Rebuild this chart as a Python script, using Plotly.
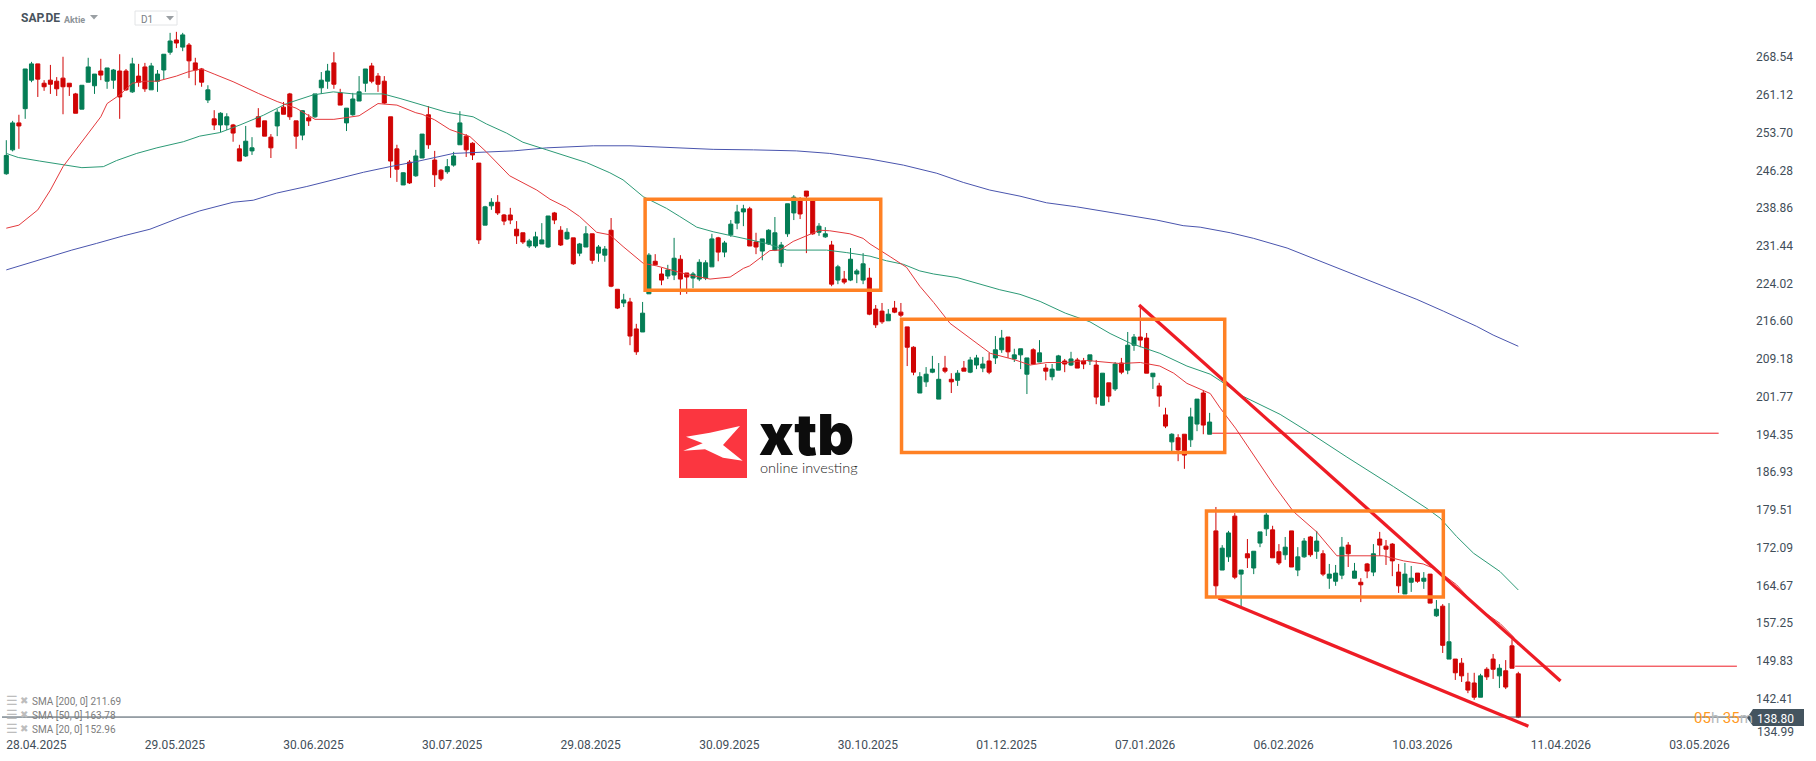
import plotly.graph_objects as go

WIDTH = 1816
HEIGHT = 761

# candles, oldest first
opens = [
    245.6, 250.3, 255.6, 258.4, 264.0, 267.2, 263.4, 264.0, 263.8, 264.4,
    263.4, 261.3, 258.3, 263.6, 262.9, 265.8, 263.8, 264.0, 265.8, 265.8,
    261.7, 264.8, 266.6, 262.1, 263.8, 266.0, 269.5, 271.9, 270.5, 270.9,
    267.4, 266.2, 260.1, 256.4, 255.2, 255.2, 255.2, 250.5, 249.1, 250.1,
    256.8, 256.0, 252.8, 255.0, 258.7, 261.3, 256.0, 253.2, 256.6, 256.8,
    262.5, 263.8, 267.4, 261.5, 255.6, 257.2, 259.9, 263.4, 266.8, 264.8,
    263.8, 256.8, 250.5, 243.4, 247.9, 245.2, 248.7, 257.2, 248.3, 246.3,
    246.0, 247.3, 251.3, 253.0, 251.6, 247.7, 235.5, 239.3, 240.0, 237.5,
    237.5, 234.7, 234.0, 231.4, 231.4, 231.8, 231.2, 237.9, 234.5, 232.8,
    233.0, 230.0, 231.2, 233.8, 230.0, 229.6, 234.5, 222.9, 220.2, 220.4,
    215.1, 214.5, 222.0, 228.4, 225.9, 225.5, 225.7, 228.8, 226.1, 225.1,
    224.9, 225.1, 227.3, 233.0, 230.2, 233.6, 235.9, 238.1, 238.7, 232.2,
    230.4, 231.8, 230.6, 228.1, 233.8, 237.9, 240.4, 242.2, 240.4, 234.1,
    233.2, 231.6, 224.7, 224.9, 224.7, 225.9, 224.7, 225.1, 219.0, 218.6,
    216.7, 219.2, 218.4, 215.5, 211.5, 202.5, 204.7, 206.6, 201.3, 207.4,
    205.2, 205.0, 207.4, 206.6, 208.0, 207.4, 208.8, 209.4, 211.0, 213.5,
    209.2, 210.0, 206.2, 211.0, 208.6, 207.4, 205.7, 207.0, 208.8, 208.0,
    209.0, 208.8, 208.8, 208.0, 200.1, 204.5, 203.3, 208.4, 207.0, 211.9,
    213.5, 213.3, 205.7, 203.9, 198.2, 192.9, 193.7, 194.4, 193.3, 196.4,
    202.5, 194.4, 175.4, 167.7, 170.3, 178.3, 166.9, 170.9, 168.1, 173.0,
    175.8, 175.6, 171.3, 170.7, 175.4, 167.7, 170.3, 174.2, 171.4, 170.9,
    166.1, 165.5, 166.7, 172.6, 166.1, 165.3, 168.9, 167.3, 173.8, 172.4,
    172.8, 167.3, 163.0, 165.3, 167.1, 165.5, 166.9, 158.7, 160.6, 150.2,
    150.2, 149.4, 145.7, 145.5, 142.7, 148.2, 150.2, 146.9, 147.9, 152.8,
    147.3,
]
highs = [
    252.2, 256.0, 257.2, 266.2, 267.6, 267.2, 264.0, 267.0, 264.6, 268.6,
    263.4, 261.5, 263.0, 268.4, 265.2, 268.2, 266.4, 266.2, 269.1, 266.2,
    268.4, 267.2, 267.4, 267.4, 266.0, 269.1, 273.3, 273.5, 273.3, 271.3,
    268.4, 266.4, 263.0, 258.1, 257.7, 257.5, 255.4, 251.3, 255.0, 252.8,
    258.5, 256.0, 253.4, 258.3, 259.7, 261.5, 256.0, 258.1, 257.3, 261.3,
    265.6, 267.2, 269.5, 262.3, 258.5, 261.5, 264.8, 266.2, 267.4, 265.4,
    264.8, 256.8, 251.3, 245.9, 248.3, 250.3, 253.4, 258.9, 250.1, 246.5,
    248.5, 249.9, 257.9, 253.4, 251.8, 247.7, 239.3, 240.8, 241.4, 237.7,
    238.9, 236.3, 234.0, 232.8, 234.2, 235.9, 237.3, 238.1, 235.3, 234.9,
    233.0, 232.0, 235.3, 233.8, 231.6, 231.4, 236.9, 222.9, 222.0, 221.2,
    216.1, 220.4, 230.0, 229.8, 227.1, 227.7, 233.0, 229.6, 226.1, 226.3,
    228.8, 228.6, 233.8, 233.2, 232.4, 236.5, 239.5, 239.5, 239.1, 234.0,
    232.8, 234.7, 237.1, 232.2, 239.7, 241.4, 241.0, 242.2, 240.4, 235.9,
    235.1, 232.4, 227.7, 226.5, 231.0, 226.9, 230.0, 227.1, 219.8, 220.2,
    219.0, 220.6, 220.2, 215.5, 211.7, 206.6, 207.6, 209.8, 208.4, 209.8,
    206.4, 207.0, 208.8, 209.6, 210.0, 209.6, 210.4, 213.7, 214.9, 213.5,
    211.2, 211.2, 209.4, 211.3, 212.9, 208.2, 208.2, 210.0, 209.2, 210.6,
    209.4, 209.4, 210.0, 209.0, 206.4, 204.5, 208.6, 209.4, 214.5, 214.1,
    219.8, 214.3, 206.4, 204.5, 199.6, 194.6, 194.4, 194.4, 199.6, 201.3,
    203.1, 198.6, 180.1, 172.6, 175.4, 178.9, 167.7, 173.8, 171.4, 175.2,
    178.9, 176.4, 172.8, 174.2, 175.4, 172.2, 174.0, 174.4, 175.4, 171.6,
    168.9, 168.7, 174.2, 173.2, 169.1, 166.1, 169.1, 172.8, 175.2, 173.6,
    173.0, 168.9, 169.1, 168.5, 167.1, 167.3, 166.9, 161.8, 161.0, 161.2,
    150.2, 150.4, 147.5, 147.5, 147.3, 148.6, 151.2, 149.2, 150.0, 154.1,
    147.7,
]
lows = [
    245.4, 250.0, 250.5, 256.4, 263.6, 260.7, 261.9, 261.3, 260.9, 257.3,
    260.9, 257.5, 258.3, 263.6, 261.3, 264.0, 262.3, 262.3, 256.4, 261.9,
    261.5, 262.7, 261.7, 262.1, 261.7, 264.2, 269.0, 270.3, 269.7, 264.4,
    263.0, 262.7, 259.5, 254.2, 253.8, 254.2, 251.9, 248.1, 248.9, 249.3,
    254.8, 253.0, 248.7, 253.0, 257.3, 256.2, 250.5, 252.2, 255.0, 256.6,
    261.3, 262.3, 262.3, 259.1, 254.0, 257.0, 259.9, 261.7, 263.4, 261.7,
    259.3, 244.8, 244.0, 243.4, 243.6, 245.0, 248.7, 250.5, 243.0, 244.2,
    245.6, 247.0, 251.3, 248.9, 248.3, 231.8, 235.5, 238.5, 237.5, 235.5,
    235.7, 231.8, 231.8, 231.0, 231.0, 231.8, 231.0, 235.7, 231.4, 232.6,
    227.7, 229.4, 231.2, 227.9, 228.3, 228.3, 223.3, 219.0, 219.4, 211.9,
    210.0, 214.5, 222.0, 227.7, 223.7, 224.9, 224.7, 221.8, 222.0, 223.1,
    224.5, 224.7, 227.3, 228.4, 229.2, 233.2, 234.7, 235.3, 231.4, 229.8,
    228.6, 231.6, 230.4, 227.3, 233.2, 236.5, 236.7, 230.0, 233.6, 233.4,
    233.0, 223.5, 223.9, 223.9, 224.5, 224.1, 223.9, 217.8, 215.3, 216.1,
    216.7, 218.2, 217.4, 207.8, 206.0, 202.5, 203.7, 206.4, 201.3, 206.4,
    202.5, 203.9, 206.8, 206.4, 207.2, 206.6, 206.2, 208.2, 210.4, 209.4,
    208.6, 207.2, 202.3, 208.0, 208.6, 205.0, 205.0, 207.0, 206.6, 207.8,
    207.4, 207.2, 208.0, 200.3, 200.1, 200.7, 202.9, 206.2, 206.2, 210.8,
    211.5, 206.4, 203.3, 199.8, 195.6, 191.1, 189.1, 187.6, 191.9, 195.0,
    194.4, 194.4, 162.4, 167.7, 169.3, 165.9, 160.6, 168.1, 166.9, 172.2,
    174.4, 170.1, 168.7, 169.7, 168.3, 166.5, 170.1, 170.3, 169.9, 166.5,
    164.0, 164.6, 165.9, 168.3, 166.1, 161.4, 166.1, 166.5, 170.5, 168.7,
    166.5, 163.2, 163.0, 163.4, 165.2, 164.0, 161.2, 158.5, 151.4, 150.2,
    146.1, 145.7, 143.5, 142.2, 142.7, 146.1, 146.3, 144.5, 144.3, 148.4,
    138.6,
]
closes = [
    249.2, 255.6, 255.0, 266.2, 267.2, 264.2, 262.7, 263.2, 262.3, 262.7,
    262.7, 257.5, 263.0, 266.6, 265.2, 265.0, 266.4, 266.0, 260.7, 262.1,
    267.2, 263.6, 262.3, 266.8, 265.2, 269.1, 271.7, 271.3, 272.9, 267.8,
    266.0, 263.6, 262.1, 255.2, 257.5, 256.8, 253.6, 248.1, 252.0, 250.7,
    254.8, 253.0, 250.7, 257.7, 257.3, 256.8, 253.0, 258.0, 256.0, 261.3,
    264.0, 265.8, 263.2, 259.1, 258.5, 260.3, 261.7, 266.2, 263.8, 263.2,
    259.5, 248.1, 246.5, 245.8, 243.8, 249.1, 253.4, 251.3, 245.4, 244.6,
    247.0, 249.1, 255.6, 250.3, 249.3, 232.6, 239.1, 240.0, 237.9, 236.3,
    236.5, 233.4, 232.2, 232.4, 233.2, 232.6, 237.3, 236.5, 231.6, 234.1,
    227.9, 231.8, 233.8, 228.6, 231.2, 230.8, 223.5, 219.2, 220.8, 213.7,
    210.6, 218.2, 229.6, 227.7, 224.7, 226.7, 229.0, 224.9, 225.3, 225.9,
    228.2, 228.1, 232.8, 230.2, 232.0, 235.7, 238.1, 238.7, 231.4, 231.2,
    232.8, 234.5, 234.0, 231.6, 239.7, 241.0, 237.7, 241.2, 233.8, 235.3,
    233.8, 223.9, 227.3, 224.3, 228.8, 226.5, 227.9, 218.0, 215.9, 216.5,
    218.0, 218.4, 217.8, 211.5, 206.6, 205.7, 206.2, 207.2, 205.2, 206.8,
    204.7, 206.4, 206.8, 209.0, 209.4, 208.2, 206.6, 211.0, 213.3, 210.6,
    210.0, 211.2, 209.4, 208.2, 210.4, 206.8, 207.2, 209.8, 208.2, 209.2,
    207.4, 208.2, 210.0, 201.7, 206.4, 201.9, 208.2, 206.6, 211.9, 213.5,
    212.9, 206.4, 206.4, 201.9, 196.0, 194.4, 191.3, 190.3, 197.8, 201.3,
    196.2, 196.8, 164.6, 172.0, 175.0, 166.3, 167.7, 170.1, 171.4, 175.2,
    178.5, 170.1, 169.1, 172.2, 168.3, 170.3, 173.4, 170.7, 173.4, 166.9,
    166.9, 167.1, 172.2, 170.9, 167.5, 164.8, 167.5, 170.9, 172.6, 171.8,
    169.5, 164.6, 166.9, 166.1, 165.5, 166.1, 161.2, 160.0, 152.9, 153.6,
    147.5, 146.9, 144.1, 142.7, 146.9, 146.7, 148.2, 148.4, 144.7, 148.4,
    138.8,
]

# moving averages, read at knots along each line (candle number, price)
sma20_x = [0, 2, 5, 7, 9, 12, 15, 16, 18, 20, 22, 24, 27, 29, 31, 33, 36, 40, 43, 46, 49, 52, 56, 59, 62, 65, 66, 68,
           70.4, 73.6, 76.2, 79.9, 84.2, 86.3, 88.9, 91, 93.7, 95.8, 97.9, 101.1, 103.2, 106.9, 108.5, 111.7, 114.9,
           117, 118, 121.2, 122.8, 124.9, 126.5, 129.1, 130.7, 133.9, 136, 137.1, 140.3, 142.9, 145, 147.2, 149.8, 153,
           156.2, 159.9, 162.5, 165.2, 168.3, 171.5, 173.6, 176.8, 180, 183.1, 185.3, 187.4, 191.1, 192.7, 195.1, 198,
           201.2, 204.3, 208, 211.2, 214.4, 218.6, 221.8, 224.9, 227, 230.2, 233.4, 237.1, 239.2, 240]
sma20_y = [234.9, 235.5, 238.5, 242.4, 247.0, 251.9, 256.8, 259.4, 261.1, 263.4, 263.8, 263.8, 264.8, 265.7, 266.2,
           265.2, 263.7, 261.4, 259.8, 258.5, 256.3, 256.3, 257.0, 259.4, 259.1, 257.6, 257.3, 256.2,
           254.3, 252.9, 249.9, 245.2, 242.4, 240.6, 239.0, 237.2, 234.1, 233.6, 231.3, 228.0, 227.5, 226.2, 225.7,
           224.9, 225.3, 227.0, 227.5, 230.5, 230.6, 232.3, 233.1, 234.5, 234.4, 233.8, 232.9, 231.8, 229.3, 227.2,
           223.5, 220.3, 216.2, 213.2, 210.3, 209.1, 208.0, 208.5, 208.5, 208.9, 208.7, 208.3, 208.5, 207.8, 206.4,
           204.4, 202.4, 199.5, 195.6, 190.3, 184.4, 179.2, 175.2, 170.5, 170.5, 170.5, 169.5, 168.9, 167.8, 164.8,
           160.5, 157.2, 154.6, 152.96]

sma50_x = [0, 1.9, 5.3, 9, 12, 15.4, 17.5, 20.7, 23.9, 28.1, 30.7, 33.9, 37.1, 40.8, 44.5, 48.7, 51.9, 55.1, 59.8, 62.5,
           66.7, 69.9, 74.1, 76.2, 79.4, 82, 85.8, 88.9, 92.1, 95.8, 97.9, 101.1, 104.8, 106.9, 109.6, 112.2, 116.4,
           120.7, 123.9, 130.2, 133.4, 137.1, 139.7, 142.4, 145, 147.2, 150.9, 154.6, 157.7, 160.9, 164.1, 168.1, 172,
           175.2, 178.4, 183.1, 187.4, 191.1, 192.7, 195.9, 202.2, 207, 212.8, 220.2, 225.5, 227.6, 230.2, 232.9,
           237.1, 240]
sma50_y = [249.6, 248.8, 248.1, 247.3, 246.8, 247.0, 248.2, 249.6, 250.7, 251.9, 253.0, 253.7, 255.2, 257.1, 259.4,
           261.1, 261.7, 261.3, 261.3, 260.4, 258.9, 257.7, 256.8, 255.4, 253.6, 251.8, 250.3, 249.1, 247.8, 245.8,
           244.4, 241.1, 238.8, 237.2, 235.1, 234.2, 233.1, 231.9, 230.6, 230.6, 230.1, 229.4, 228.5, 227.8, 226.5,
           225.9, 225.2, 223.9, 222.8, 221.9, 220.5, 218.2, 216.5, 214.2, 212.3, 210.3, 207.8, 206.2, 204.9, 202.1,
           198.3, 194.6, 189.9, 184.1, 179.8, 177.9, 174.3, 171.0, 167.4, 163.78]

sma200_x = [0, 10.4, 14.3, 18.6, 22.8, 27.6, 30.7, 33.9, 36, 39.2, 42.9, 47.7, 51.9, 56.7, 60.9, 65.1, 71, 75.2, 80.5,
            85.8, 93.2, 99, 106.9, 112.2, 118.6, 125.4, 130.7, 137.1, 142.4, 147.7, 151.9, 156.1, 160.9, 165.1, 169.9,
            175.2, 182.6, 186.8, 189.5, 194.3, 198, 203.3, 208, 212.3, 218.1, 223.9, 228.1, 233.4, 236, 240]
sma200_y = [226.7, 230.6, 231.9, 233.4, 234.7, 237.0, 238.3, 239.3, 240.0, 240.4, 241.8, 243.1, 244.4, 245.9, 247.0,
            248.0, 249.6, 249.8, 250.1, 250.7, 251.1, 251.1, 250.7, 250.4, 250.3, 250.1, 249.6, 248.5, 247.3, 245.7,
            243.9, 242.4, 241.2, 239.9, 239.1, 238.0, 236.5, 235.4, 235.1, 234.0, 232.9, 231.0, 228.7, 226.5, 223.7,
            220.9, 218.6, 215.6, 213.9, 211.69]

# tick labels
date_ticks = [0, 22, 44, 66, 88, 110, 132, 154, 176, 198, 220, 242, 264]
date_labels = ["28.04.2025", "29.05.2025", "30.06.2025", "30.07.2025", "29.08.2025", "30.09.2025", "30.10.2025",
               "01.12.2025", "07.01.2026", "06.02.2026", "10.03.2026", "11.04.2026", "03.05.2026"]
price_ticks = [142.41, 149.83, 157.25, 164.67, 172.09, 179.51, 186.93, 194.35, 201.77, 209.18, 216.60, 224.02,
               231.44, 238.86, 246.28, 253.70, 261.12, 268.54]
bottom_price = 134.99
last_price = 138.80

# drawings on the chart: candle numbers and prices
box_left = [101.4, 142.1, 190.5]
box_right = [138.8, 193.4, 228.1]
box_top = [240.6, 217.0, 179.3]
box_bottom = [222.7, 190.8, 162.4]
trend_x0 = [179.8, 192.4]
trend_x1 = [246.7, 241.6]
trend_y0 = [219.8, 162.2]
trend_y1 = [145.9, 137.0]
level_price = [194.6, 148.8]
level_x0 = [191.4, 239.5]
level_x1 = [271.8, 274.7]

sma_labels = ["SMA [200, 0] 211.69", "SMA [50, 0] 163.78", "SMA [20, 0] 152.96"]

GREEN = "#047d55"
RED = "#d00404"
ORANGE = "#ff8124"
LINE_RED = "#ee1c25"
DARK = "#3f4e59"


def px(x):
    return x / WIDTH


def py(y):
    return 1 - y / HEIGHT


def poly(points):
    return "M " + " L ".join(f"{px(x)},{py(y)}" for x, y in points) + " Z"


def note(x, y, text, size=12, color=DARK, family="Roboto", anchor="left", weight=None):
    font = dict(family=family, size=size, color=color)
    if weight:
        font["weight"] = weight
    return dict(xref="paper", yref="paper", x=px(x), y=py(y), text=text, showarrow=False,
                xanchor=anchor, yanchor="middle", font=font, borderpad=0)


fig = go.Figure()

fig.add_trace(go.Candlestick(
    x=list(range(len(opens))), open=opens, high=highs, low=lows, close=closes,
    increasing=dict(line=dict(color=GREEN, width=1), fillcolor=GREEN),
    decreasing=dict(line=dict(color=RED, width=1), fillcolor=RED),
    whiskerwidth=0, hoverinfo="skip", showlegend=False,
))

for xs, ys, color in [(sma200_x, sma200_y, "#4a55ae"), (sma50_x, sma50_y, "#2c9a76"), (sma20_x, sma20_y, "#e4393c")]:
    fig.add_trace(go.Scatter(x=xs, y=ys, mode="lines", line=dict(color=color, width=1),
                             hoverinfo="skip", showlegend=False))

shapes = []

# levels and last price
for price, x0, x1 in zip(level_price, level_x0, level_x1):
    shapes.append(dict(type="line", xref="x", yref="y", x0=x0, x1=x1, y0=price, y1=price,
                       line=dict(color=LINE_RED, width=1)))
shapes.append(dict(type="line", xref="paper", yref="y", x0=px(2), x1=px(1748), y0=last_price, y1=last_price,
                   line=dict(color=DARK, width=1)))

# trend lines
for x0, x1, y0, y1 in zip(trend_x0, trend_x1, trend_y0, trend_y1):
    shapes.append(dict(type="line", xref="x", yref="y", x0=x0, x1=x1, y0=y0, y1=y1,
                       line=dict(color=LINE_RED, width=3.3)))

# orange consolidation boxes
for x0, x1, y0, y1 in zip(box_left, box_right, box_bottom, box_top):
    shapes.append(dict(type="rect", xref="x", yref="y", x0=x0, x1=x1, y0=y0, y1=y1,
                       line=dict(color=ORANGE, width=3.5)))

# price tag at the right
shapes.append(dict(type="path", xref="paper", yref="paper", fillcolor="#44545f", line=dict(width=0),
                   path=poly([(1747, 718), (1753, 709), (1804, 709), (1804, 726), (1753, 726)])))

# logo
shapes.append(dict(type="rect", xref="paper", yref="paper", x0=px(679), x1=px(747), y0=py(478), y1=py(409),
                   fillcolor="#fb3640", line=dict(width=0)))
shapes.append(dict(type="path", xref="paper", yref="paper", fillcolor="white", line=dict(width=0),
                   path=poly([(686, 436.7), (710, 432.7), (740, 426), (723, 445), (742.7, 460.7), (723, 457.7),
                              (705, 449.3), (683.3, 450.7), (702.7, 443.3)])))

# top left selector box and its arrows
shapes.append(dict(type="rect", xref="paper", yref="paper", x0=px(135), x1=px(177), y0=py(25), y1=py(11),
                   line=dict(color="#e2e4e6", width=1)))
shapes.append(dict(type="path", xref="paper", yref="paper", fillcolor="#9a9fa3", line=dict(width=0),
                   path=poly([(90, 15), (98, 15), (94, 19.5)])))
shapes.append(dict(type="path", xref="paper", yref="paper", fillcolor="#9a9fa3", line=dict(width=0),
                   path=poly([(166, 16), (174, 16), (170, 20.5)])))

annotations = [
    note(20, 18.5, "SAP.DE", size=12, color="#48535c", weight=700),
    note(63, 19.5, "Aktie", size=9, color="#8d9499", weight=700),
    note(140, 19.5, "D1", size=10, color="#7a8085"),
    note(758, 434, "xtb", size=57, color="#0c0c0c", family="Inter", weight=900),
    note(759, 467, "online investing", size=14.5, color="#222222", family="Lato", weight=300),
    note(1756, 732, f"{bottom_price:.2f}"),
    note(1756, 718.5, f"{last_price:.2f}", color="#ffffff"),
    note(1693, 717.5, '<span style="color:#ff9a1f">05</span>h <span style="color:#ff9a1f">35</span>m',
         size=15, color="#b5b8ba"),
]

for label, y in zip(sma_labels, [701, 715, 729]):
    annotations.append(note(31, y, label, size=10, color="#7d7d7d"))
    annotations.append(note(5, y - 1, "☰", size=13, color="#bdbdbd", family="DejaVu Sans"))
    annotations.append(note(19, y - 1, "✖", size=10, color="#bdbdbd", family="DejaVu Sans"))

# one candle is 6.3 px wide, first candle at 6.3 px, price scale 5.087 px per unit
fig.update_layout(
    width=WIDTH, height=HEIGHT,
    margin=dict(l=0, r=0, t=0, b=0),
    paper_bgcolor="white", plot_bgcolor="white",
    showlegend=False, boxgap=0.2, boxgroupgap=0.2,
    shapes=shapes, annotations=annotations,
    xaxis=dict(
        domain=[0, 1755 / WIDTH], range=[-1, 277.57], rangeslider=dict(visible=False),
        showgrid=False, zeroline=False, showline=False, ticks="",
        tickmode="array", tickvals=date_ticks, ticktext=date_labels, ticklabelshift=30, ticklabelstandoff=5,
        tickfont=dict(family="Roboto", size=12, color=DARK),
    ),
    yaxis=dict(
        domain=[30 / HEIGHT, 1], range=[136.06, 279.76], side="right",
        showgrid=False, zeroline=False, showline=False, ticks="",
        tickmode="array", tickvals=price_ticks, ticktext=[f"{p:.2f}" for p in price_ticks],
        tickfont=dict(family="Roboto", size=12, color=DARK),
    ),
)

# page margin would shift the whole chart by 8 px
fig.write_html("out.html", config=dict(displayModeBar=False), post_script="document.body.style.margin = '0';")
